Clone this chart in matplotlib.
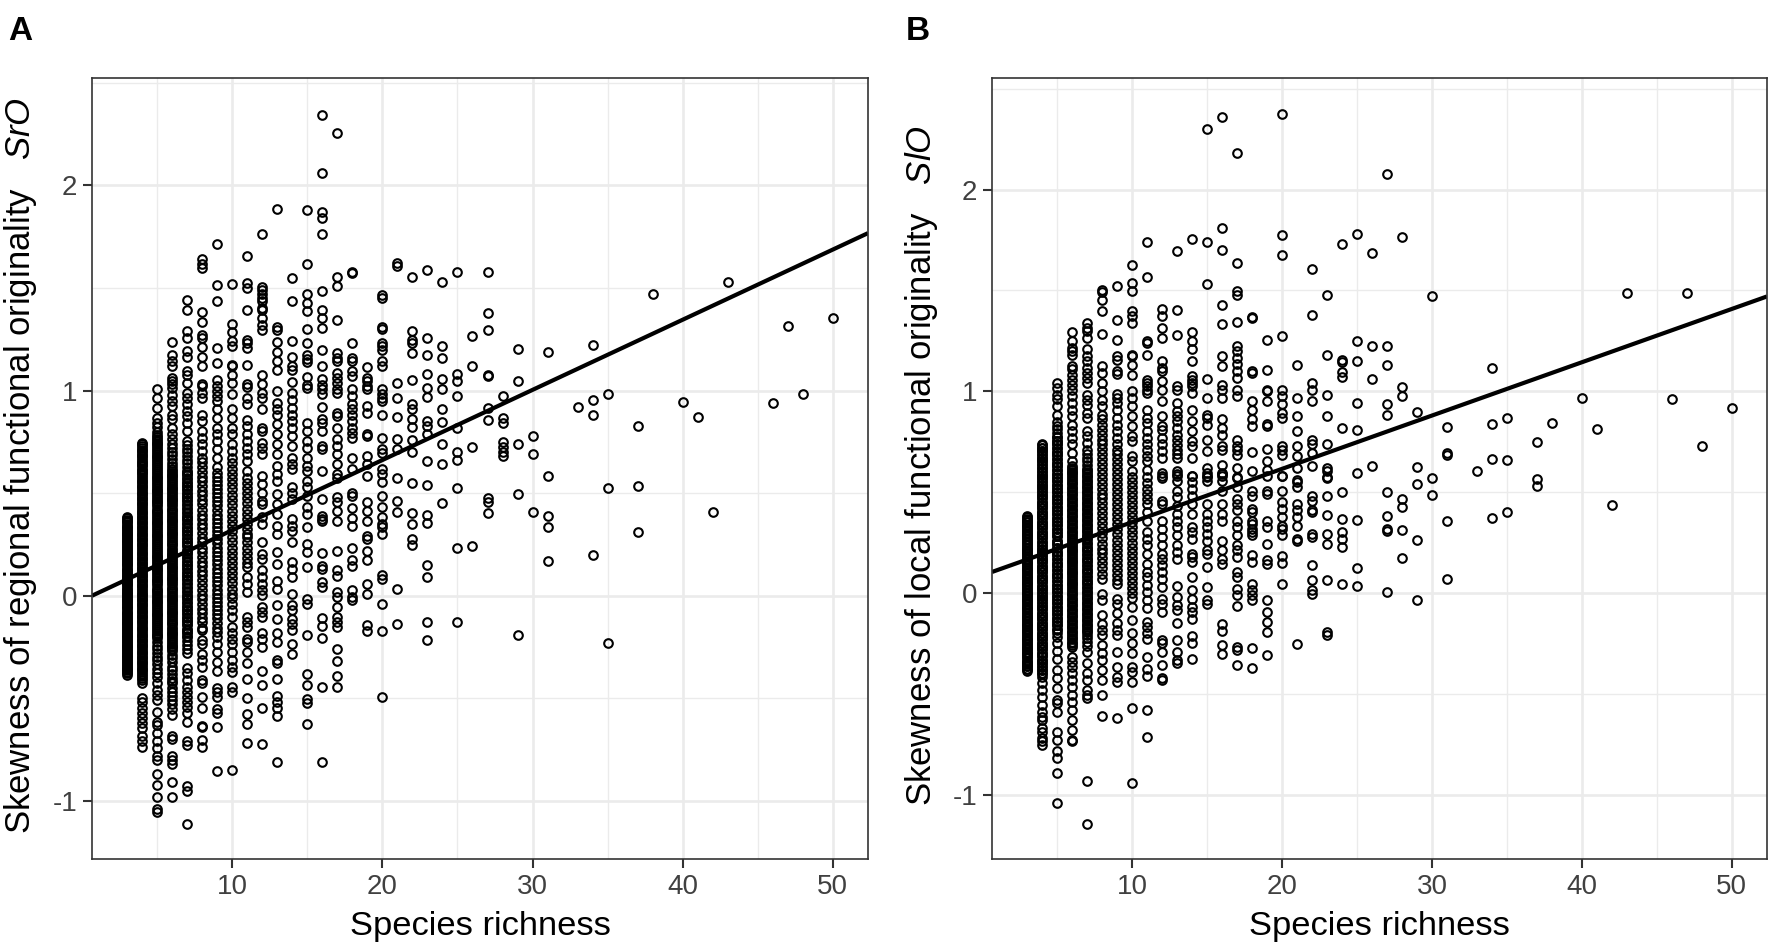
import matplotlib
matplotlib.use("Agg")
import matplotlib.pyplot as plt
from matplotlib.ticker import MultipleLocator

plt.rcParams['font.family'] = ['Liberation Sans', 'DejaVu Sans']
plt.rcParams['mathtext.fontset'] = 'custom'
plt.rcParams['mathtext.rm'] = 'Liberation Sans'
plt.rcParams['mathtext.it'] = 'Liberation Sans:italic'
plt.rcParams['axes.unicode_minus'] = False

# ---------- Panel A: skewness of regional functional originality, by species richness ----------
sro_03 = [.385,.37,.358,.342,.33,.315,.3,.288,.272,.26,.245,.232,.218,.202,.19,.175,.16,.148,.132,.12,.105,.09,.078,.062,.05,.035,.02,.008,-.008,-.02,-.035,-.05,-.062,-.078,-.09,-.105,-.12,-.132,-.148,-.16,-.175,-.19,-.202,-.218,-.232,-.245,-.26,-.272,-.288,-.3,-.315,-.33,-.342,-.358,-.37,-.385]
sro_04 = [.746,.73,.712,.695,.68,.662,.645,.63,.612,.596,.578,.56,.545,.528,.51,.495,.478,.46,.445,.428,.41,.395,.378,.36,.345,.328,.31,.295,.278,.26,.245,.228,.21,.195,.178,.16,.145,.128,.11,.095,.078,.06,.045,.028,.01,-.005,-.022,-.04,-.055,-.072,-.09,-.105,-.122,-.14,-.155,-.172,-.19,-.205,-.222,-.24,-.255,-.272,-.29,-.305,-.322,-.34,-.355,-.372,-.39,-.41,-.427,-.5,-.516,-.549,-.573,-.597,-.621,-.646,-.686,-.71,-.735]
sro_05 = [1.005,.964,.913,.867,.843,.82,.8,.785,.765,.745,.73,.71,.69,.675,.655,.635,.62,.6,.58,.565,.545,.525,.51,.49,.47,.455,.435,.415,.4,.38,.36,.345,.325,.305,.29,.27,.25,.235,.215,.195,.18,.16,.14,.125,.105,.085,.07,.05,.03,.015,-.005,-.025,-.04,-.06,-.08,-.095,-.115,-.135,-.15,-.17,-.19,-.205,-.225,-.245,-.26,-.28,-.3,-.315,-.335,-.355,-.375,-.395,-.427,-.46,-.484,-.508,-.565,-.613,-.63,-.67,-.71,-.743,-.783,-.8,-.867,-.92,-.98,-1.039,-1.055]
sro_06 = [1.236,1.172,1.142,1.118,1.06,1.045,1.03,1.013,.98,.948,.924,.883,.859,.819,.786,.762,.738,.72,.7,.685,.665,.645,.63,.61,.59,.575,.555,.535,.52,.5,.48,.465,.445,.425,.41,.39,.37,.355,.335,.315,.3,.28,.26,.245,.225,.205,.19,.17,.15,.135,.115,.095,.08,.06,.04,.025,.005,-.015,-.03,-.05,-.07,-.085,-.105,-.125,-.14,-.16,-.18,-.195,-.215,-.235,-.25,-.27,-.29,-.305,-.325,-.345,-.36,-.38,-.4,-.415,-.427,-.45,-.47,-.49,-.51,-.53,-.55,-.58,-.686,-.7,-.783,-.8,-.819,-.909,-.98]
sro_07 = [1.439,1.392,1.288,1.256,1.191,1.162,1.094,1.078,1.037,.989,.964,.932,.9,.875,.843,.803,.754,.735,.715,.7,.68,.66,.645,.625,.605,.59,.57,.55,.535,.515,.495,.48,.46,.44,.425,.405,.385,.37,.35,.33,.315,.295,.275,.26,.24,.22,.205,.185,.165,.15,.13,.11,.095,.075,.055,.04,.02,0,-.015,-.035,-.055,-.07,-.09,-.11,-.125,-.145,-.165,-.18,-.2,-.22,-.24,-.26,-.28,-.354,-.379,-.411,-.443,-.468,-.492,-.516,-.54,-.573,-.613,-.707,-.727,-.926,-.953,-1.11]
sro_08 = [1.641,1.615,1.599,1.383,1.333,1.272,1.256,1.212,1.162,1.121,1.032,1.021,.989,.964,.883,.851,.803,.77,.738,.706,.673,.65,.625,.605,.58,.56,.535,.51,.49,.465,.445,.42,.395,.375,.35,.33,.305,.28,.26,.235,.215,.19,.165,.145,.12,.1,.075,.05,.03,.005,-.015,-.04,-.065,-.085,-.11,-.13,-.155,-.168,-.217,-.233,-.282,-.314,-.346,-.411,-.427,-.495,-.549,-.634,-.641,-.702,-.738]
sro_09 = [1.715,1.515,1.435,1.207,1.134,1.053,1.021,.997,.972,.948,.908,.867,.819,.786,.754,.714,.673,.625,.6,.58,.56,.54,.52,.5,.48,.46,.44,.42,.395,.375,.355,.335,.315,.295,.275,.255,.235,.215,.195,.175,.155,.13,.11,.09,.07,.05,.03,.01,-.01,-.03,-.05,-.07,-.09,-.11,-.135,-.155,-.175,-.2,-.233,-.273,-.322,-.366,-.451,-.468,-.492,-.553,-.573,-.638,-.856]
sro_10 = [1.518,1.324,1.285,1.243,1.215,1.126,1.118,1.078,1.037,.981,.908,.867,.819,.786,.738,.706,.673,.645,.62,.595,.57,.545,.52,.49,.465,.44,.415,.39,.365,.34,.315,.285,.26,.235,.21,.185,.16,.135,.11,.085,.06,.035,.01,-.01,-.039,-.071,-.104,-.152,-.184,-.209,-.233,-.273,-.314,-.346,-.371,-.443,-.468,-.848]
sro_11 = [1.657,1.523,1.502,1.39,1.248,1.231,1.207,1.126,1.032,1.016,.964,.932,.854,.827,.786,.754,.722,.689,.657,.608,.576,.55,.525,.5,.475,.45,.425,.4,.375,.35,.325,.3,.285,.26,.235,.21,.185,.16,.139,.091,.058,.018,-.104,-.128,-.152,-.209,-.225,-.273,-.33,-.408,-.5,-.576,-.625,-.718]
sro_12 = [1.765,1.506,1.49,1.47,1.45,1.434,1.401,1.393,1.353,1.32,1.296,1.078,1.032,.989,.964,.908,.819,.803,.746,.722,.689,.584,.544,.503,.463,.447,.382,.35,.26,.204,.18,.123,.09,.058,.026,.002,-.055,-.079,-.104,-.184,-.209,-.249,-.367,-.435,-.545,-.723]
sro_13 = [1.887,1.312,1.296,1.236,1.188,1.142,1.102,.997,.94,.908,.883,.835,.786,.738,.689,.633,.592,.56,.495,.447,.398,.341,.301,.212,.155,.074,.034,-.047,-.112,-.184,-.225,-.314,-.33,-.408,-.489,-.516,-.549,-.586,-.812]
sro_14 = [1.55,1.434,1.239,1.163,1.118,1.102,1.042,.989,.956,.916,.883,.851,.819,.778,.73,.673,.641,.617,.528,.503,.471,.374,.341,.317,.26,.163,.131,.091,.01,-.047,-.071,-.112,-.136,-.168,-.233,-.282]
sro_15 = [1.879,1.617,1.472,1.426,1.388,1.299,1.231,1.175,1.155,1.139,1.065,1.029,1.013,.843,.803,.754,.722,.673,.633,.608,.56,.528,.487,.43,.398,.333,.252,.212,.142,-.015,-.039,-.193,-.382,-.435,-.505,-.521,-.625]
sro_16 = [2.345,2.061,1.871,1.841,1.761,1.487,1.393,1.353,1.304,1.199,1.118,1.058,1.029,1.005,.981,.919,.859,.843,.803,.73,.714,.608,.471,.39,.374,.366,.207,.147,.131,.066,.042,-.107,-.149,-.206,-.447,-.809]
sro_17 = [2.256,1.552,1.511,1.345,1.183,1.159,1.142,1.086,1.061,1.037,1.005,.989,.892,.875,.819,.762,.73,.689,.641,.592,.576,.479,.455,.414,.366,.22,.123,.094,.018,-.006,-.055,-.104,-.128,-.152,-.262,-.317,-.39,-.443]
sro_18 = [1.576,1.571,1.231,1.159,1.142,1.094,1.07,1.005,.972,.932,.908,.883,.851,.819,.794,.77,.673,.617,.503,.487,.427,.377,.341,.233,.175,.147,.026,-.006,-.023]
sro_19 = [1.113,1.061,1.045,1.021,1.005,.924,.892,.786,.778,.681,.641,.584,.455,.414,.362,.293,.277,.22,.172,.058,.006,-.144,-.172]
sro_20 = [1.466,1.45,1.312,1.301,1.231,1.215,1.199,1.142,1.121,1.005,.981,.964,.948,.88,.77,.714,.697,.617,.592,.552,.487,.43,.382,.35,.333,.301,.099,.083,-.042,-.172,-.492]
sro_21 = [1.62,1.608,1.037,.964,.871,.762,.714,.576,.463,.406,.034,-.136]
sro_22 = [1.555,1.291,1.248,1.231,1.183,1.053,.932,.908,.859,.824,.757,.702,.547,.401,.35,.277,.249]
sro_23 = [1.586,1.256,1.175,1.081,1.013,.968,.851,.827,.786,.657,.54,.393,.356,.152,.091,-.128,-.217]
sro_24 = [1.531,1.215,1.159,1.058,1.005,.908,.848,.738,.641,.451]
sro_25 = [1.579,1.081,1.045,.971,.819,.702,.662,.524,.231,-.129]
sro_26 = [1.264,1.12,.725,.241]
sro_27 = [1.58,1.377,1.295,1.074,1.07,.914,.854,.476,.456,.405]
sro_28 = [.974,.864,.841,.748,.723,.70,.68]
sro_29 = [1.2,1.047,.741,.498,-.19]
sro_30 = [.778,.69,.406]
sro_31 = [1.188,.584,.388,.337,.168]
sro_33 = [.919]
sro_34 = [1.223,.956,.883,.20]
sro_35 = [.982,.524,-.23]
sro_37 = [.828,.536,.312]
sro_38 = [1.469]
sro_40 = [.943]
sro_41 = [.869]
sro_42 = [.406]
sro_43 = [1.531]
sro_46 = [.94]
sro_47 = [1.314]
sro_48 = [.981]
sro_50 = [1.354]

# ---------- Panel B: skewness of local functional originality, by species richness ----------
slo_03 = [.38,.365,.352,.338,.325,.31,.295,.282,.268,.255,.24,.225,.212,.198,.185,.17,.155,.142,.128,.115,.1,.085,.072,.058,.045,.03,.015,.002,-.012,-.025,-.04,-.055,-.068,-.082,-.095,-.11,-.125,-.138,-.152,-.165,-.18,-.195,-.208,-.222,-.235,-.25,-.265,-.278,-.292,-.305,-.32,-.335,-.348,-.362,-.375,-.387]
slo_04 = [.735,.72,.702,.685,.67,.652,.635,.62,.602,.585,.57,.552,.535,.52,.502,.485,.47,.452,.435,.42,.402,.385,.37,.352,.335,.32,.302,.285,.27,.252,.235,.22,.202,.185,.17,.152,.135,.12,.102,.085,.07,.052,.035,.02,.002,-.015,-.03,-.048,-.065,-.08,-.098,-.115,-.13,-.148,-.165,-.18,-.198,-.215,-.23,-.248,-.265,-.28,-.298,-.315,-.33,-.348,-.365,-.38,-.398,-.415,-.448,-.481,-.514,-.555,-.588,-.613,-.63,-.67,-.687,-.72,-.736,-.753]
slo_05 = [1.041,1.017,.983,.96,.926,.884,.85,.83,.812,.795,.775,.755,.74,.72,.7,.685,.665,.645,.63,.61,.59,.575,.555,.535,.52,.5,.48,.465,.445,.425,.41,.39,.37,.355,.335,.315,.3,.28,.26,.245,.225,.205,.19,.17,.15,.135,.115,.095,.08,.06,.04,.025,.005,-.015,-.03,-.05,-.07,-.085,-.105,-.125,-.14,-.16,-.185,-.218,-.25,-.29,-.325,-.382,-.423,-.473,-.53,-.547,-.588,-.687,-.728,-.786,-.819,-.893,-1.041]
slo_06 = [1.294,1.251,1.215,1.198,1.182,1.124,1.112,1.083,1.058,1.033,1.008,.975,.942,.909,.876,.835,.802,.769,.736,.694,.653,.63,.612,.595,.575,.555,.54,.52,.5,.485,.465,.445,.43,.41,.39,.375,.355,.335,.32,.3,.28,.265,.245,.225,.21,.19,.17,.155,.135,.115,.1,.08,.06,.045,.025,.005,-.01,-.03,-.05,-.065,-.085,-.105,-.12,-.14,-.16,-.175,-.195,-.215,-.23,-.25,-.267,-.316,-.341,-.366,-.399,-.432,-.465,-.506,-.539,-.58,-.629,-.679,-.728,-.736]
slo_07 = [1.339,1.314,1.298,1.264,1.21,1.174,1.149,1.116,1.091,1.066,1.041,.983,.959,.934,.893,.868,.802,.777,.744,.711,.69,.67,.655,.635,.615,.6,.58,.56,.545,.525,.505,.49,.47,.45,.435,.415,.395,.38,.36,.34,.325,.305,.285,.27,.25,.23,.215,.195,.175,.16,.14,.12,.105,.085,.065,.05,.03,.01,-.005,-.025,-.045,-.06,-.08,-.1,-.115,-.135,-.155,-.17,-.19,-.21,-.225,-.245,-.265,-.292,-.349,-.399,-.432,-.481,-.506,-.522,-.931,-1.143]
slo_08 = [1.504,1.493,1.451,1.397,1.284,1.124,1.091,1.041,1.0,.959,.926,.884,.86,.835,.81,.785,.76,.74,.715,.69,.665,.64,.615,.59,.565,.54,.515,.49,.47,.445,.42,.395,.37,.345,.32,.295,.27,.245,.22,.2,.175,.15,.125,.096,.071,-.003,-.036,-.11,-.152,-.185,-.209,-.259,-.3,-.333,-.382,-.432,-.506,-.61]
slo_09 = [1.524,1.355,1.256,1.174,1.157,1.102,1.086,.987,.967,.942,.909,.868,.835,.802,.769,.736,.71,.69,.665,.64,.615,.59,.565,.54,.515,.49,.465,.44,.415,.39,.365,.34,.315,.29,.265,.24,.215,.19,.165,.14,.115,.09,.065,.046,-.028,-.053,-.1,-.15,-.185,-.21,-.295,-.366,-.415,-.44,-.621]
slo_10 = [1.625,1.537,1.499,1.397,1.372,1.339,1.182,1.174,1.132,1.083,1.0,.967,.926,.876,.826,.777,.752,.678,.653,.603,.575,.55,.525,.5,.475,.45,.425,.4,.375,.35,.325,.3,.275,.25,.225,.2,.175,.15,.125,.1,.075,.05,.025,0,-.025,-.069,-.135,-.201,-.25,-.3,-.366,-.39,-.44,-.572,-.942]
slo_11 = [1.739,1.567,1.248,1.24,1.182,1.058,1.041,1.025,1.008,.992,.909,.868,.843,.802,.769,.736,.711,.678,.653,.612,.575,.545,.515,.49,.465,.442,.40,.359,.301,.269,.236,.194,.145,.104,.079,.038,.005,-.036,-.077,-.143,-.168,-.2,-.226,-.316,-.377,-.412,-.58,-.712]
slo_12 = [1.408,1.375,1.314,1.263,1.149,1.116,1.099,1.05,1.008,.95,.876,.826,.81,.769,.736,.702,.669,.595,.57,.582,.458,.442,.359,.318,.277,.236,.194,.17,.137,.104,.071,.03,-.028,-.053,-.094,-.234,-.25,-.295,-.357,-.423,-.432]
slo_13 = [1.694,1.405,1.281,1.025,1.008,.942,.901,.876,.851,.818,.785,.76,.735,.71,.69,.67,.603,.579,.59,.557,.507,.474,.433,.392,.359,.326,.285,.236,.203,.17,.033,-.02,-.061,-.086,-.148,-.231,-.292,-.333,-.346]
slo_14 = [1.755,1.294,1.248,1.207,1.149,1.074,1.058,1.041,1.025,.992,.909,.851,.802,.752,.727,.669,.579,.582,.549,.516,.483,.442,.392,.326,.301,.269,.194,.178,.153,.079,.013,-.028,-.069,-.094,-.127,-.213,-.247,-.329]
slo_15 = [2.30,1.741,1.531,1.063,.967,.884,.868,.835,.76,.702,.62,.595,.579,.573,.557,.442,.392,.359,.326,.293,.26,.211,.194,.129,.03,-.033,-.053]
slo_16 = [2.36,1.81,1.702,1.43,1.331,1.174,1.124,1.03,1.008,.967,.86,.818,.785,.727,.711,.636,.595,.579,.59,.557,.507,.442,.392,.359,.26,.211,.17,.145,-.152,-.188,-.259,-.303]
slo_17 = [2.18,1.636,1.496,1.476,1.342,1.224,1.2,1.166,1.133,1.1,1.067,1.008,.975,.76,.727,.711,.686,.62,.57,.573,.524,.466,.442,.409,.359,.326,.285,.236,.211,.178,.104,.079,.021,-.012,-.066,-.267,-.284,-.357]
slo_18 = [1.369,1.361,1.099,1.091,.954,.909,.86,.826,.699,.603,.507,.483,.417,.40,.359,.343,.318,.301,.285,.186,.153,.046,.013,-.012,-.036,-.272,-.371]
slo_19 = [1.253,1.107,1.008,1.0,.954,.84,.826,.716,.653,.612,.579,.507,.491,.359,.326,.241,.161,.145,-.036,-.094,-.143,-.193,-.308]
slo_20 = [2.377,1.777,1.673,1.274,1.008,.975,.937,.893,.868,.727,.711,.686,.579,.582,.507,.45,.417,.376,.334,.318,.285,.181,.148,.046]
slo_21 = [1.132,.967,.879,.802,.727,.678,.62,.562,.549,.524,.442,.409,.376,.334,.269,.26,-.255]
slo_22 = [1.607,1.377,1.041,1.008,.954,.76,.736,.694,.628,.483,.458,.409,.40,.293,.277,.137,.063,.013,-.007]
slo_23 = [1.479,1.179,.98,.876,.736,.62,.603,.57,.573,.483,.384,.293,.244,.063,-.193,-.209]
slo_24 = [1.732,1.155,1.143,1.094,1.069,.818,.499,.367,.301,.269,.227,.046]
slo_25 = [1.78,1.249,1.149,.942,.81,.595,.362,.125,.035]
slo_26 = [1.686,1.226,1.061,.629]
slo_27 = [2.078,1.226,1.132,.939,.884,.50,.383,.318,.305,.005]
slo_28 = [1.767,1.021,.977,.467,.427,.314,.173]
slo_29 = [.899,.622,.54,.262,-.033]
slo_30 = [1.47,.568,.484]
slo_31 = [.825,.695,.686,.356,.071]
slo_33 = [.604]
slo_34 = [1.117,.837,.662,.373]
slo_35 = [.868,.657,.399]
slo_37 = [.748,.564,.531]
slo_38 = [.843]
slo_40 = [.965]
slo_41 = [.814]
slo_42 = [.436]
slo_43 = [1.485]
slo_46 = [.96]
slo_47 = [1.488]
slo_48 = [.731]
slo_50 = [.917]

# ---------- Further points inside the solid black bands at low richness (both panels) ----------
band_03 = [.378,.364,.35,.336,.322,.308,.294,.28,.266,.252,.238,.225,.21,.196,.182,.168,.154,.14,.126,.112,.098,.084,.07,.056,.042,.028,.014,0,-.014,-.028,-.042,-.056,-.07,-.084,-.098,-.112,-.126,-.14,-.154,-.168,-.182,-.196,-.21,-.225,-.238,-.252,-.266,-.28,-.294,-.308,-.322,-.336,-.35,-.364,-.378]
band_04 = [.738,.72,.704,.688,.67,.654,.638,.62,.604,.587,.57,.553,.536,.52,.503,.486,.47,.453,.436,.42,.403,.386,.37,.353,.336,.32,.303,.286,.27,.253,.236,.22,.203,.186,.17,.153,.136,.12,.103,.086,.07,.053,.036,.02,.003,-.014,-.03,-.047,-.064,-.08,-.097,-.114,-.13,-.147,-.164,-.18,-.197,-.214,-.23,-.247,-.264,-.28,-.297,-.314,-.33,-.347,-.364,-.38,-.4]
band_05 = [.775,.755,.737,.72,.70,.682,.665,.645,.627,.61,.59,.572,.555,.535,.517,.5,.48,.462,.445,.425,.407,.39,.37,.352,.335,.315,.297,.28,.26,.242,.225,.205,.187,.17,.15,.132,.115,.095,.077,.06,.04,.022,.005,-.015,-.033,-.05,-.07,-.088,-.105,-.125,-.143,-.16,-.18,-.198]
band_06 = [.62,.60,.583,.565,.545,.527,.51,.49,.472,.455,.435,.417,.4,.38,.362,.345,.325,.307,.29,.27,.252,.235,.215,.197,.18,.16,.142,.125,.105,.087,.07,.05,.032,.015,-.005,-.023,-.04,-.06,-.078,-.095,-.115,-.133,-.15,-.17,-.188,-.205,-.225,-.243,-.26]
band_07 = [.61,.592,.575,.555,.537,.52,.5,.482,.465,.445,.427,.41,.39,.372,.355,.335,.317,.3,.28,.262,.245,.225,.207,.19,.17,.152,.135,.115,.097,.08,.06,.042,.025,.005,-.013,-.03,-.05,-.068,-.085,-.105,-.123,-.14,-.16,-.178,-.195]
band_richness = [3, 4, 5, 6, 7]
band_columns = [band_03, band_04, band_05, band_06, band_07]

richness = [3,4,5,6,7,8,9,10,11,12,13,14,15,16,17,18,19,20,21,22,23,24,25,26,27,28,29,30,31,33,34,35,37,38,40,41,42,43,46,47,48,50]
sro_columns = [sro_03,sro_04,sro_05,sro_06,sro_07,sro_08,sro_09,sro_10,sro_11,sro_12,sro_13,sro_14,sro_15,sro_16,sro_17,sro_18,sro_19,sro_20,sro_21,sro_22,sro_23,sro_24,sro_25,sro_26,sro_27,sro_28,sro_29,sro_30,sro_31,sro_33,sro_34,sro_35,sro_37,sro_38,sro_40,sro_41,sro_42,sro_43,sro_46,sro_47,sro_48,sro_50]
slo_columns = [slo_03,slo_04,slo_05,slo_06,slo_07,slo_08,slo_09,slo_10,slo_11,slo_12,slo_13,slo_14,slo_15,slo_16,slo_17,slo_18,slo_19,slo_20,slo_21,slo_22,slo_23,slo_24,slo_25,slo_26,slo_27,slo_28,slo_29,slo_30,slo_31,slo_33,slo_34,slo_35,slo_37,slo_38,slo_40,slo_41,slo_42,slo_43,slo_46,slo_47,slo_48,slo_50]

fit_x = [0.65, 52.35]
fit_sro = [0.0, 1.767]
fit_slo = [0.104, 1.47]
x_ticks = [10, 20, 30, 40, 50]
y_ticks = [-1, 0, 1, 2]

W, H = 1772, 946
fig = plt.figure(figsize=(W/100, H/100), dpi=100)

def panel(box, columns, fit_y, ylim, ylabel, letter, letter_x, label_x):
    l, t, r, b = box
    ax = fig.add_axes([l/W, 1-b/H, (r-l)/W, (b-t)/H])
    ax.set_xlim(0.65, 52.35)
    ax.set_ylim(*ylim)
    ax.set_axisbelow(True)
    ax.set_xticks(x_ticks)
    ax.set_yticks(y_ticks)
    ax.xaxis.set_minor_locator(MultipleLocator(5))
    ax.yaxis.set_minor_locator(MultipleLocator(0.5))
    ax.grid(which='major', color='#EBEBEB', lw=1.9)
    ax.grid(which='minor', color='#EBEBEB', lw=1.0)
    ax.tick_params(which='minor', length=0)
    ax.tick_params(which='major', length=6.5, width=1.5, color='#333333',
                   labelcolor='#404040', labelsize=20, pad=4)
    for s in ax.spines.values():
        s.set_color('#333333')
        s.set_linewidth(1.2)
    for xv, ys in list(zip(richness, columns)) + list(zip(band_richness, band_columns)):
        ax.plot([xv]*len(ys), ys, ls='none', marker='o', ms=6.2, mfc='none',
                mec='black', mew=1.5, clip_on=True)
    ax.plot(fit_x, fit_y, color='black', lw=3.0, solid_capstyle='butt')
    ax.set_xlabel('Species richness', fontsize=24.8, color='black', labelpad=8)
    fig.text(label_x/W, 1-466/H, ylabel, rotation=90, fontsize=25, color='black',
             ha='center', va='center')
    fig.text(letter_x/W, 1-31/H, letter, fontsize=24, fontweight='bold', color='black',
             ha='left', va='center')
    return ax

panel((92, 78, 868, 859), sro_columns, fit_sro, (-1.283, 2.523),
      'Skewness of regional functional originality   $\\mathit{SrO}$', 'A', 8, 21)
panel((992, 78, 1767, 859), slo_columns, fit_slo, (-1.319, 2.553),
      'Skewness of local functional originality   $\\mathit{SlO}$', 'B', 906, 921)

fig.savefig('out.png', dpi=100)
